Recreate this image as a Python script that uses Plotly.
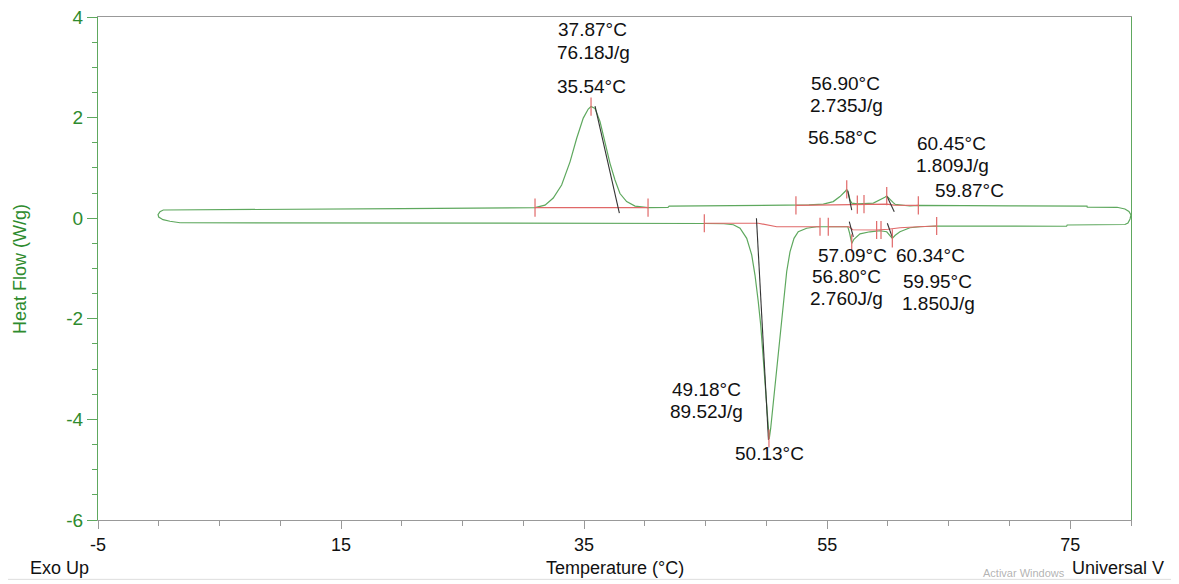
import plotly.graph_objects as go

# ---------------- data ----------------
# heating branch (lower curve), left -> right
heat_T = [1.75, 10, 20, 30, 40, 44.9, 46.5, 47.28, 47.83, 48.38, 48.79, 49.06, 49.33, 49.53,
          49.74, 49.94, 50.11, 50.19, 50.23, 50.35, 50.57, 50.85, 51.12, 51.39, 51.67, 51.94,
          52.27, 52.62, 53.31, 54.14, 55.5, 56.7, 56.85, 56.95, 57.02, 57.2, 57.7, 58.52,
          59.35, 59.9, 60.2, 60.36, 60.6, 60.99, 61.81, 62.64, 64.0, 70.0, 74.7, 74.75,
          79.5, 79.75, 79.92, 80.0]
heat_hf = [-0.09, -0.09, -0.095, -0.10, -0.10, -0.105, -0.11, -0.13, -0.20, -0.40, -0.73, -1.13,
           -1.66, -2.12, -2.79, -3.45, -4.05, -4.34, -4.39, -4.18, -3.65, -2.92, -2.26, -1.59,
           -1.06, -0.67, -0.40, -0.27, -0.20, -0.17, -0.165, -0.17, -0.30, -0.45, -0.50, -0.42,
           -0.31, -0.27, -0.25, -0.27, -0.35, -0.40, -0.34, -0.27, -0.19, -0.17, -0.155, -0.16,
           -0.16, -0.135, -0.125, -0.095, -0.016, 0.064]

# cooling branch (upper curve), right -> left
cool_T = [80.0, 79.83, 79.5, 78.85, 76.4, 76.38, 70.0, 64.0, 62.5, 61.81, 61.0, 60.6, 60.44,
          60.2, 59.9, 59.75, 59.35, 58.8, 58.0, 57.5, 57.02, 56.88, 56.75, 56.61, 56.47, 56.05,
          55.5, 54.68, 53.5, 52.43, 48.0, 42.0, 41.9, 40.26, 39.19, 38.5, 37.95, 37.54, 37.13,
          36.72, 36.31, 35.9, 35.57, 35.34, 34.93, 34.39, 33.84, 33.15, 32.46, 31.78, 30.96,
          20.0, 10.0, 0.37, 0.10, -0.06, -0.005, 0.35, 0.92, 1.75]
cool_hf = [0.064, 0.133, 0.183, 0.217, 0.22, 0.24, 0.245, 0.255, 0.255, 0.243, 0.256, 0.275,
           0.31, 0.36, 0.44, 0.415, 0.36, 0.30, 0.29, 0.285, 0.30, 0.36, 0.495, 0.575, 0.53,
           0.43, 0.33, 0.28, 0.265, 0.262, 0.255, 0.24, 0.215, 0.21, 0.24, 0.33, 0.49, 0.76,
           1.09, 1.52, 1.92, 2.18, 2.22, 2.17, 1.99, 1.59, 1.12, 0.66, 0.40, 0.26, 0.21,
           0.19, 0.17, 0.163, 0.13, 0.07, 0.024, -0.03, -0.06, -0.09]

# integration baselines (red)
base_segments = [
    ([30.96, 40.26], [0.21, 0.21]),
    ([52.43, 56.7, 57.0, 59.9, 60.5, 62.5], [0.255, 0.26, 0.27, 0.28, 0.26, 0.255]),
    ([44.89, 49.33, 50.85, 54.41], [-0.10, -0.10, -0.17, -0.17]),
    ([55.09, 56.8, 57.1, 59.07, 60.0, 61.0, 62.5, 64.01],
     [-0.17, -0.17, -0.23, -0.235, -0.22, -0.19, -0.17, -0.155]),
]

# onset tangent lines (black)
tangent_segments = [
    ([35.90, 37.90], [2.23, 0.10]),
    ([49.18, 50.17], [0.0, -4.41]),
    ([56.69, 57.02], [0.55, 0.16]),
    ([59.93, 60.52], [0.43, 0.13]),
    ([56.82, 57.15], [-0.07, -0.37]),
    ([59.95, 60.36], [-0.10, -0.38]),
]

# red limit / peak markers
mark_T = [30.96, 40.26, 52.43, 57.48, 58.03, 62.50, 35.57, 56.61, 59.90,
          44.89, 54.41, 55.09, 59.07, 59.43, 64.01, 50.21, 57.02, 60.36]
mark_hf = [0.21, 0.21, 0.255, 0.27, 0.28, 0.255, 2.22, 0.575, 0.44,
           -0.10, -0.17, -0.17, -0.235, -0.235, -0.155, -4.38, -0.50, -0.40]

# peak annotation texts with their anchor (T, heat flow)
label_text = ["37.87°C", "76.18J/g", "35.54°C", "56.90°C", "2.735J/g", "56.58°C",
              "60.45°C", "1.809J/g", "59.87°C", "57.09°C", "60.34°C", "56.80°C",
              "2.760J/g", "59.95°C", "1.850J/g", "49.18°C", "89.52J/g", "50.13°C"]
label_T = [35.73, 35.80, 35.57, 56.47, 56.55, 56.22, 65.19, 65.35, 66.67, 57.12, 63.54,
           56.55, 56.63, 64.04, 64.20, 45.03, 45.10, 50.25]
label_hf = [3.76, 3.30, 2.61, 2.67, 2.24, 1.61, 1.49, 1.05, 0.56, -0.74, -0.74,
            -1.15, -1.59, -1.25, -1.69, -3.40, -3.84, -4.67]

x_ticks = [-5, 15, 35, 55, 75]
x_tick_text = ["-5", "15", "35", "55", "75"]
y_ticks = [-6, -4, -2, 0, 2, 4]
y_tick_text = ["-6", "-4", "-2", "0", "2", "4"]

# ---------------- figure ----------------
GREEN_LINE = "#5ea85e"
AXIS_GREEN = "#2e8b2e"
RED = "#e06868"
FONT = "Liberation Sans, Arial, sans-serif"

fig = go.Figure()
fig.add_trace(go.Scatter(x=heat_T, y=heat_hf, mode="lines",
                         line=dict(color=GREEN_LINE, width=1.2), hoverinfo="skip"))
fig.add_trace(go.Scatter(x=cool_T, y=cool_hf, mode="lines",
                         line=dict(color=GREEN_LINE, width=1.2), hoverinfo="skip"))
for xs, ys in base_segments:
    fig.add_trace(go.Scatter(x=xs, y=ys, mode="lines",
                             line=dict(color=RED, width=1.2), hoverinfo="skip"))
for xs, ys in tangent_segments:
    fig.add_trace(go.Scatter(x=xs, y=ys, mode="lines",
                             line=dict(color="#333333", width=1.1), hoverinfo="skip"))
fig.add_trace(go.Scatter(x=mark_T, y=mark_hf, mode="markers",
                         marker=dict(symbol="line-ns", size=13,
                                     line=dict(color=RED, width=1.2)),
                         hoverinfo="skip"))

for t, xx, yy in zip(label_text, label_T, label_hf):
    fig.add_annotation(x=xx, y=yy, text=t, showarrow=False, xanchor="center",
                       yanchor="middle", font=dict(family=FONT, size=19, color="#111111"))

# axis/footer texts
fig.add_annotation(xref="paper", yref="paper", x=-0.076, y=0.5, text="Heat Flow (W/g)",
                   textangle=-90, showarrow=False, xanchor="center", yanchor="middle",
                   font=dict(family=FONT, size=18, color=AXIS_GREEN))
fig.add_annotation(xref="paper", yref="paper", x=-0.068, y=-0.095, text="Exo Up",
                   showarrow=False, xanchor="left", yanchor="middle",
                   font=dict(family=FONT, size=18, color="#111111"))
fig.add_annotation(xref="paper", yref="paper", x=0.5, y=-0.095, text="Temperature (°C)",
                   showarrow=False, xanchor="center", yanchor="middle",
                   font=dict(family=FONT, size=18, color="#111111"))
fig.add_annotation(xref="paper", yref="paper", x=0.941, y=-0.095, text="Universal V",
                   showarrow=False, xanchor="left", yanchor="middle",
                   font=dict(family=FONT, size=18, color="#111111"))
fig.add_annotation(xref="paper", yref="paper", x=0.938, y=-0.106, text="Activar Windows",
                   showarrow=False, xanchor="right", yanchor="middle",
                   font=dict(family=FONT, size=11, color="rgba(160,160,160,0.8)"))

fig.add_shape(type="line", xref="paper", yref="paper", x0=-0.09, x1=1.045, y0=-0.118, y1=-0.118,
              line=dict(color="#dddddd", width=1))

# the page body adds an 8 px offset, so the figure is 8 px smaller on each used side
fig.update_layout(
    width=1171, height=576,
    margin=dict(l=90, r=48, t=9, b=64, autoexpand=False),
    paper_bgcolor="white", plot_bgcolor="white",
    showlegend=False,
    font=dict(family=FONT),
    xaxis=dict(range=[-5, 80], tickvals=x_ticks, ticktext=x_tick_text, showgrid=False,
               zeroline=False, automargin=False, ticklabeloverflow="allow",
               showline=True, linecolor="#999999", linewidth=1, mirror=True,
               ticks="outside", ticklen=8, tickcolor="#999999",
               tickfont=dict(family=FONT, size=18, color="#111111"),
               minor=dict(tick0=-5, dtick=5, ticks="outside", ticklen=5, tickcolor="#999999")),
    yaxis=dict(range=[-6, 4], tickvals=y_ticks, ticktext=y_tick_text, showgrid=False,
               zeroline=False, automargin=False, ticklabeloverflow="allow",
               showline=True, linecolor=GREEN_LINE, linewidth=1.2, mirror=True,
               ticks="outside", ticklen=10, tickcolor=GREEN_LINE,
               tickfont=dict(family=FONT, size=19, color=AXIS_GREEN),
               minor=dict(dtick=0.5, ticks="outside", ticklen=5, tickcolor=GREEN_LINE)),
)

fig.write_html("out.html")
